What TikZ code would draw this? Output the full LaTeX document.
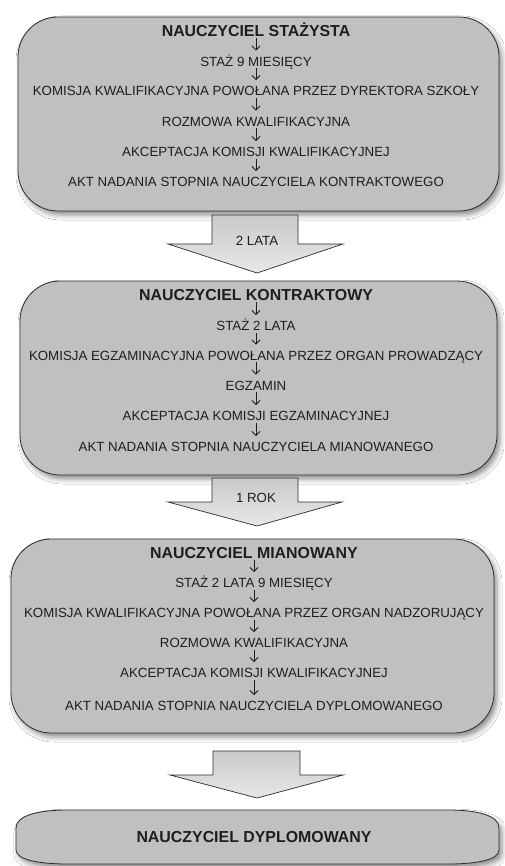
\documentclass[tikz,border=0pt]{standalone}
\usepackage{fontspec}
\setmainfont{Liberation Sans}
\usetikzlibrary{arrows.meta,shadows.blur}
\definecolor{boxfill}{RGB}{192,192,192}
\definecolor{edge}{RGB}{45,45,45}
\definecolor{ink}{RGB}{30,30,30}
\tikzset{
  stagebox/.style={draw=edge, line width=0.8pt, fill=boxfill, rounded corners=40pt,
    blur shadow={shadow xshift=3pt, shadow yshift=-4pt, shadow blur radius=5pt, shadow opacity=45}},
  bigarrow/.style={draw=edge, line width=0.7pt, top color=gray!42, bottom color=gray!18},
  ttl/.style={inner sep=0pt, text=ink, font=\bfseries\fontsize{15.9}{17}\selectfont, text height=10.5pt, text depth=0pt},
  txt/.style={inner sep=0pt, text=ink, font=\fontsize{13.3}{15}\selectfont, text height=9.5pt, text depth=0pt},
  sarr/.style={draw=ink, line width=0.9pt, -{Straight Barb[length=4pt,width=8pt]}, shorten <=2pt, shorten >=6pt},
}
\begin{document}
\begin{tikzpicture}[x=1pt,y=-1pt]
\useasboundingbox[fill=white] (0,0) rectangle (504,866);

% ---------- box 1
\path[stagebox] (18,17) rectangle (499,211);
\node[ttl] (a0) at (256,31) {NAUCZYCIEL STAŻYSTA};
\node[txt] (a1) at (256,61.5) {STAŻ 9 MIESIĘCY};
\node[txt] (a2) at (256,91) {KOMISJA KWALIFIKACYJNA POWOŁANA PRZEZ DYREKTORA SZKOŁY};
\node[txt] (a3) at (256,121.5) {ROZMOWA KWALIFIKACYJNA};
\node[txt] (a4) at (256,152) {AKCEPTACJA KOMISJI KWALIFIKACYJNEJ};
\node[txt] (a5) at (256,182) {AKT NADANIA STOPNIA NAUCZYCIELA KONTRAKTOWEGO};
\draw[sarr] (a0) -- (a1);
\draw[sarr] (a1) -- (a2);
\draw[sarr] (a2) -- (a3);
\draw[sarr] (a3) -- (a4);
\draw[sarr] (a4) -- (a5);

% ---------- arrow 1
\path[bigarrow] (212,215) -- (298,215) -- (298,244) -- (343,244) -- (257,273) -- (168,244) -- (212,244) -- cycle;
\node[txt] (l1) at (257,241) {2 LATA};

% ---------- box 2
\path[stagebox] (20,281) rectangle (497,475);
\node[ttl] (b0) at (256,295) {NAUCZYCIEL KONTRAKTOWY};
\node[txt] (b1) at (256,326) {STAŻ 2 LATA};
\node[txt] (b2) at (256,355.5) {KOMISJA EGZAMINACYJNA POWOŁANA PRZEZ ORGAN PROWADZĄCY};
\node[txt] (b3) at (256,385.5) {EGZAMIN};
\node[txt] (b4) at (256,416) {AKCEPTACJA KOMISJI EGZAMINACYJNEJ};
\node[txt] (b5) at (256,447) {AKT NADANIA STOPNIA NAUCZYCIELA MIANOWANEGO};
\draw[sarr] (b0) -- (b1);
\draw[sarr] (b1) -- (b2);
\draw[sarr] (b2) -- (b3);
\draw[sarr] (b3) -- (b4);
\draw[sarr] (b4) -- (b5);

% ---------- arrow 2
\path[bigarrow] (212,478) -- (298,478) -- (298,502) -- (342,502) -- (257,526) -- (168,502) -- (212,502) -- cycle;
\node[txt] (l2) at (256,498) {1 ROK};

% ---------- box 3
\path[stagebox] (11,539) rectangle (494,733);
\node[ttl] (c0) at (254,553) {NAUCZYCIEL MIANOWANY};
\node[txt] (c1) at (254,583) {STAŻ 2 LATA 9 MIESIĘCY};
\node[txt] (c2) at (254,613) {KOMISJA KWALIFIKACYJNA POWOŁANA PRZEZ ORGAN NADZORUJĄCY};
\node[txt] (c3) at (254,643) {ROZMOWA KWALIFIKACYJNA};
\node[txt] (c4) at (254,673) {AKCEPTACJA KOMISJI KWALIFIKACYJNEJ};
\node[txt] (c5) at (254,706) {AKT NADANIA STOPNIA NAUCZYCIELA DYPLOMOWANEGO};
\draw[sarr] (c0) -- (c1);
\draw[sarr] (c1) -- (c2);
\draw[sarr] (c2) -- (c3);
\draw[sarr] (c3) -- (c4);
\draw[sarr] (c4) -- (c5);

% ---------- arrow 3
\path[bigarrow] (213,751) -- (300,751) -- (300,775) -- (343,775) -- (257,798) -- (170,775) -- (213,775) -- cycle;

% ---------- box 4
\path[draw=edge, line width=0.8pt, fill=boxfill,
  blur shadow={shadow xshift=3pt, shadow yshift=-4pt, shadow blur radius=5pt, shadow opacity=45}]
  (16,828) .. controls (16,815) and (40,810) .. (68,810) -- (448,810)
  .. controls (476,810) and (499,815) .. (499,828) -- (499,850)
  .. controls (499,860) and (476,864) .. (448,864) -- (68,864)
  .. controls (40,864) and (16,860) .. (16,850) -- cycle;
\node[ttl] (d0) at (254,837) {NAUCZYCIEL DYPLOMOWANY};
\end{tikzpicture}
\end{document}
